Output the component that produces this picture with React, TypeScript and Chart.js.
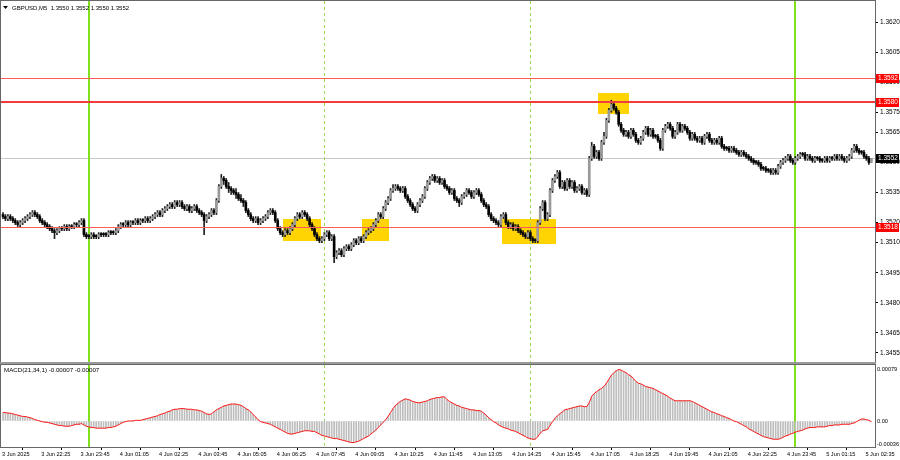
import React, { useEffect, useRef } from "react";
import { Chart, registerables } from "chart.js";
Chart.register(...registerables);

// prices are stored in pips above 1.3000 (e.g. 552 -> 1.3552)
const BASE = 1.3;
const open = [
524,523,522,523,522,521,520,519,520,521,
522,523,524,525,524,523,521,520,519,518,
517,516,515,516,517,517,518,517,518,518,
519,519,520,521,514,513,513,514,513,513,
514,514,514,514,515,515,515,516,518,519,
519,520,519,520,520,521,520,521,521,522,
521,522,523,524,525,524,526,527,528,529,
528,530,529,530,528,527,528,526,527,528,
526,525,524,521,523,524,526,525,531,538,
542,541,538,537,536,535,534,532,531,530,
526,524,522,521,522,520,521,522,523,525,
526,525,521,517,515,514,516,515,517,519,
522,524,523,525,524,522,519,517,514,512,
511,512,514,515,512,513,503,505,506,504,
507,508,507,509,511,510,512,511,513,515,
516,517,519,521,524,523,527,530,532,536,
537,538,537,536,537,533,531,529,527,526,
529,531,533,537,540,542,543,541,542,540,
541,538,537,535,536,532,531,530,533,534,
536,535,533,535,536,534,531,529,528,524,
522,521,520,519,523,524,520,518,519,517,
518,516,515,514,513,515,512,511,511,520,
527,530,522,524,536,541,543,545,538,540,
537,541,538,540,536,537,538,535,536,534,
552,558,553,555,552,560,563,571,576,579,
577,575,569,566,564,565,563,566,564,561,
560,562,565,567,564,566,563,563,561,557,
566,568,569,567,563,565,569,566,568,567,
565,562,564,562,561,562,560,563,564,561,
560,561,560,562,558,557,557,556,557,556,
555,554,555,554,553,552,551,550,550,549,
547,547,546,546,545,546,545,548,550,551,
552,553,551,550,552,553,554,554,552,553,
552,551,552,552,551,551,552,551,552,552,
553,552,553,552,551,552,553,556,558,556,
555,555,553,552,550];
const high = [
525,524,524,524,523,522,521,521,522,523,
524,525,526,526,525,524,522,521,520,519,
518,517,517,518,518,519,519,519,519,520,
520,521,522,522,515,514,515,515,514,515,
515,515,515,516,516,516,517,519,520,520,
521,521,521,521,522,522,522,522,523,523,
523,524,525,526,526,527,528,529,530,530,
531,531,531,531,529,529,529,528,529,529,
527,526,525,524,525,527,527,532,539,544,
543,542,540,538,537,537,535,534,532,531,
527,525,523,523,523,522,523,524,526,527,
527,526,522,518,516,517,517,518,520,523,
525,525,526,526,525,523,520,518,515,513,
513,515,516,516,514,514,506,507,507,508,
509,509,510,512,512,513,513,514,516,517,
518,520,522,525,525,528,531,533,537,539,
539,539,538,538,538,534,532,530,528,530,
532,534,538,541,543,544,544,543,543,542,
542,539,538,537,537,533,532,534,535,537,
537,536,536,537,537,535,532,530,529,525,
523,522,521,524,525,525,521,520,520,519,
519,517,516,515,516,516,513,512,521,528,
531,531,525,537,542,544,546,546,541,541,
542,542,541,541,538,539,539,537,537,553,
560,559,556,556,561,565,572,577,581,580,
578,576,570,567,566,566,567,567,565,562,
563,566,568,568,567,567,564,564,562,567,
569,570,570,568,566,570,570,569,569,568,
566,565,565,563,563,563,564,565,565,562,
562,562,563,563,559,558,558,558,558,557,
556,556,556,555,554,553,552,551,551,550,
548,548,547,547,547,547,549,551,552,553,
554,554,552,553,554,555,555,555,554,554,
553,553,553,553,552,553,553,553,553,554,
554,554,554,553,553,554,557,559,559,557,
556,556,554,553,552];
const low = [
522,521,521,521,520,519,518,518,519,520,
521,522,523,523,522,520,519,518,517,516,
515,512,514,515,516,516,516,516,517,517,
518,518,519,513,512,512,512,512,512,512,
513,513,513,513,514,514,514,515,517,518,
518,518,518,519,519,519,519,520,520,520,
520,521,522,523,523,523,525,526,527,527,
527,528,528,527,526,526,525,525,526,525,
524,523,514,520,522,523,524,524,530,537,
539,537,535,534,534,532,531,530,528,525,
523,521,520,520,519,519,520,521,522,524,
524,520,516,514,513,513,514,514,516,518,
521,522,522,523,521,518,516,513,511,510,
510,511,513,511,511,500,502,504,503,503,
506,506,506,508,509,509,510,510,512,514,
515,516,518,520,522,522,526,529,531,535,
536,536,535,535,532,530,528,526,525,525,
528,530,532,536,539,541,540,540,539,539,
537,536,534,534,531,530,528,529,532,533,
534,532,532,534,533,530,528,527,523,521,
520,519,518,518,522,519,517,517,516,516,
515,514,513,512,512,511,510,510,510,519,
526,521,521,523,535,540,542,537,537,536,
536,537,537,535,535,536,534,534,533,533,
551,552,552,551,551,559,562,570,575,576,
574,568,565,563,563,562,562,563,560,559,
559,561,564,563,563,562,562,560,556,556,
565,567,566,562,562,564,565,565,566,564,
561,561,561,560,560,559,559,562,560,559,
559,559,559,557,556,556,555,555,555,554,
553,553,553,552,551,550,549,549,548,546,
546,545,545,544,544,544,544,547,549,550,
551,550,549,549,551,552,553,551,551,551,
550,550,551,550,550,550,550,550,551,551,
551,551,551,550,550,551,552,555,555,554,
554,552,551,549,550];
const close = [
523,522,523,522,521,520,519,520,521,522,
523,524,525,524,523,521,520,519,518,517,
516,515,516,517,517,518,517,518,518,519,
519,520,521,514,513,513,514,513,513,514,
514,514,514,515,515,515,516,518,519,519,
520,519,520,520,521,520,521,521,522,521,
522,523,524,525,524,526,527,528,529,528,
530,529,530,528,527,528,526,527,528,526,
525,524,521,523,524,526,525,531,538,542,
541,538,537,536,535,534,532,531,530,526,
524,522,521,522,520,521,522,523,525,526,
525,521,517,515,514,516,515,517,519,522,
524,523,525,524,522,519,517,514,512,511,
512,514,515,512,513,503,505,506,504,507,
508,507,509,511,510,512,511,513,515,516,
517,519,521,524,523,527,530,532,536,537,
538,537,536,537,533,531,529,527,526,529,
531,533,537,540,542,543,541,542,540,541,
538,537,535,536,532,531,530,533,534,536,
535,533,535,536,534,531,529,528,524,522,
521,520,519,523,524,520,518,519,517,518,
516,515,514,513,515,512,511,511,520,527,
530,522,524,536,541,543,545,538,540,537,
541,538,540,536,537,538,535,536,534,552,
558,553,555,552,560,563,571,576,579,577,
575,569,566,564,565,563,566,564,561,560,
562,565,567,564,566,563,563,561,557,566,
568,569,567,563,565,569,566,568,567,565,
562,564,562,561,562,560,563,564,561,560,
561,560,562,558,557,557,556,557,556,555,
554,555,554,553,552,551,550,550,549,547,
547,546,546,545,546,545,548,550,551,552,
553,551,550,552,553,554,554,552,553,552,
551,552,552,551,551,552,551,552,552,553,
552,553,552,551,552,553,556,558,556,555,
555,553,552,550,552];
// MACD(21,34,1) main value in units of 0.00001
const macd = [
13,13,12,12,11,10,9,8,7,7,
6,5,4,2,1,0,-1,-2,-2,-3,
-4,-5,-6,-7,-7,-8,-8,-8,-7,-6,
-5,-5,-4,-6,-8,-9,-10,-10,-11,-11,
-11,-11,-11,-10,-10,-9,-8,-6,-4,-2,
-1,0,0,0,1,1,1,2,3,4,
5,6,7,8,10,11,12,14,15,17,
18,18,19,19,19,18,18,18,17,17,
16,15,13,11,10,11,14,17,19,21,
23,24,25,26,26,26,25,24,22,19,
17,14,10,6,2,-1,-2,-3,-4,-5,
-7,-9,-11,-13,-15,-17,-19,-20,-20,-19,
-18,-17,-16,-15,-15,-15,-16,-16,-18,-20,
-22,-23,-24,-25,-26,-27,-27,-28,-29,-30,
-31,-32,-33,-33,-32,-31,-29,-27,-25,-23,
-20,-17,-14,-10,-6,-2,2,7,13,19,
24,27,30,32,34,33,32,30,29,28,
28,29,30,31,33,34,35,36,36,37,
37,33,30,28,26,24,23,21,20,19,
18,17,17,16,16,15,12,9,5,2,
-1,-3,-6,-8,-10,-11,-12,-14,-15,-16,
-18,-20,-22,-24,-26,-27,-28,-28,-24,-19,
-15,-14,-13,-7,-1,4,8,11,14,17,
18,19,20,21,22,23,23,22,22,28,
38,42,45,48,50,53,58,64,70,74,
77,79,78,76,74,71,69,65,61,58,
57,55,53,52,51,50,48,46,44,42,
40,38,35,33,31,31,31,31,31,31,
31,30,28,26,24,22,20,18,16,14,
13,11,10,8,7,5,4,2,0,-1,
-3,-5,-7,-9,-12,-14,-16,-18,-20,-22,
-24,-25,-26,-27,-28,-28,-28,-27,-25,-23,
-22,-20,-19,-17,-16,-15,-14,-12,-11,-10,
-10,-10,-9,-9,-9,-9,-8,-7,-7,-6,
-6,-6,-5,-5,-5,-5,-4,-3,-1,1,
3,3,2,1,-1];

const priceTicks = [620, 605, 590, 575, 565, 550, 535, 520, 510, 495, 480, 465, 455];
const macdTicks = [79, 0, -36];
const macdTickLabels = ["0.00079", "0.00", "-0.00036"];
const timeTickBars = [0,16,32,48,64,80,96,112,128,144,160,176,192,208,224,240,256,272,288,304,320,336,352];
const timeLabels = ["3 Jun 2025","3 Jun 22:25","3 Jun 23:45","4 Jun 01:05","4 Jun 02:25","4 Jun 03:45","4 Jun 05:05","4 Jun 06:25","4 Jun 07:45","4 Jun 09:05","4 Jun 10:25","4 Jun 11:45","4 Jun 13:05","4 Jun 14:25","4 Jun 15:45","4 Jun 17:05","4 Jun 18:25","4 Jun 19:45","4 Jun 21:05","4 Jun 22:25","4 Jun 23:45","5 Jun 01:15","5 Jun 02:35"];
const levels = [592, 580, 518];
const currentPrice = 552;
const daySeparators = [35, 323];
const sessionMarks = [131, 215];
const zoneStart = [114.1, 146.4, 203.4, 242.6];
const zoneEnd = [129.6, 157.4, 225.4, 255.2];
const zoneHigh = [521.8, 521.8, 521.8, 584.6];
const zoneLow = [510.8, 510.8, 509.3, 574.1];
const titleText = "GBPUSD,M5  1.3550 1.3552 1.3550 1.3552";
const macdTitle = "MACD(21,34,1) -0.00007 -0.00007";

const XMIN = -0.815;
const XMAX = 355.5;
const FONT = "Liberation Sans";
const fmtPrice = (v: number) => (BASE + v / 10000).toFixed(4);

function drawVLines(chart: any) {
  const { ctx, chartArea: a, scales } = chart;
  const x = scales.x;
  ctx.save();
  ctx.beginPath();
  ctx.rect(a.left, a.top, a.right - a.left, a.bottom - a.top);
  ctx.clip();
  ctx.strokeStyle = "#7fe01e";
  ctx.lineWidth = 2;
  daySeparators.forEach((b) => {
    const px = Math.round(x.getPixelForValue(b));
    ctx.beginPath();
    ctx.moveTo(px, a.top);
    ctx.lineTo(px, a.bottom);
    ctx.stroke();
  });
  ctx.strokeStyle = "#9ad65a";
  ctx.lineWidth = 1;
  ctx.setLineDash([3, 3]);
  sessionMarks.forEach((b) => {
    const px = Math.round(x.getPixelForValue(b)) + 0.5;
    ctx.beginPath();
    ctx.moveTo(px, a.top);
    ctx.lineTo(px, a.bottom);
    ctx.stroke();
  });
  ctx.restore();
}

function drawBorder(chart: any) {
  const { ctx, chartArea: a } = chart;
  ctx.save();
  ctx.strokeStyle = "#666";
  ctx.lineWidth = 1;
  ctx.strokeRect(Math.round(a.left) - 0.5, Math.round(a.top) - 0.5, Math.round(a.right - a.left) + 1, Math.round(a.bottom - a.top) + 1);
  ctx.restore();
}

const noPadY = (w: number) => (s: any) => {
  s.width = w;
  s.paddingTop = 0;
  s.paddingBottom = 0;
};

const mainOverlay = {
  id: "mainOverlay",
  beforeDatasetsDraw(chart: any) {
    const { ctx, chartArea: a, scales } = chart;
    const x = scales.x, y = scales.y;
    ctx.save();
    ctx.beginPath();
    ctx.rect(a.left, a.top, a.right - a.left, a.bottom - a.top);
    ctx.clip();
    ctx.fillStyle = "#ffd400";
    zoneStart.forEach((s, k) => {
      const x0 = x.getPixelForValue(s), x1 = x.getPixelForValue(zoneEnd[k]);
      const y0 = y.getPixelForValue(zoneHigh[k]), y1 = y.getPixelForValue(zoneLow[k]);
      ctx.fillRect(Math.round(x0), Math.round(y0), Math.round(x1 - x0), Math.round(y1 - y0));
    });
    const cy = Math.round(y.getPixelForValue(currentPrice)) + 0.5;
    ctx.strokeStyle = "#c8c8c8";
    ctx.lineWidth = 1;
    ctx.beginPath();
    ctx.moveTo(a.left, cy);
    ctx.lineTo(a.right, cy);
    ctx.stroke();
    ctx.restore();
    drawVLines(chart);
  },
  afterDatasetsDraw(chart: any) {
    const { ctx, chartArea: a, scales } = chart;
    const y = scales.y;
    ctx.save();
    levels.forEach((lv) => {
      const thick = lv === 580;
      const py = thick ? Math.round(y.getPixelForValue(lv)) : Math.round(y.getPixelForValue(lv)) + 0.5;
      ctx.strokeStyle = thick ? "#f03c3c" : "#ff5a5a";
      ctx.lineWidth = thick ? 2 : 1;
      ctx.beginPath();
      ctx.moveTo(a.left, py);
      ctx.lineTo(a.right, py);
      ctx.stroke();
    });
    ctx.restore();
  },
  afterDraw(chart: any) {
    const { ctx, chartArea: a, scales } = chart;
    const y = scales.y;
    drawBorder(chart);
    ctx.save();
    ctx.font = `6.5px "${FONT}"`;
    ctx.textBaseline = "middle";
    ctx.textAlign = "left";
    const boxes = [...levels.map((lv) => ({ v: lv, c: "#ff0000" })), { v: currentPrice, c: "#000000" }];
    boxes.forEach((b) => {
      const py = Math.round(y.getPixelForValue(b.v));
      ctx.fillStyle = b.c;
      ctx.fillRect(a.right + 1, py - 4, 23, 9);
      ctx.fillStyle = "#fff";
      ctx.fillText(fmtPrice(b.v), a.right + 3, py + 0.5);
    });
    // title
    ctx.fillStyle = "#000";
    ctx.beginPath();
    ctx.moveTo(3, 6);
    ctx.lineTo(8, 6);
    ctx.lineTo(5.5, 9);
    ctx.closePath();
    ctx.fill();
    ctx.font = `6px "${FONT}"`;
    ctx.fillText(titleText, 12, 8);
    ctx.restore();
  },
};

const macdOverlay = {
  id: "macdOverlay",
  beforeDatasetsDraw(chart: any) {
    drawVLines(chart);
  },
  afterDraw(chart: any) {
    const { ctx } = chart;
    drawBorder(chart);
    ctx.save();
    ctx.fillStyle = "#000";
    ctx.font = `6.2px "${FONT}"`;
    ctx.textBaseline = "middle";
    ctx.fillText(macdTitle, 4, 7);
    ctx.restore();
  },
};

export default function App() {
  const mainRef = useRef<HTMLCanvasElement>(null);
  const macdRef = useRef<HTMLCanvasElement>(null);

  useEffect(() => {
    const idx = close.map((_, i) => i);
    const wickData = idx.map((i) => ({ x: i, y: [low[i], high[i]] }));
    const bodyData = idx.map((i) => ({ x: i, y: [open[i], close[i]] }));
    const bodyColors = idx.map((i) => (close[i] > open[i] ? "#9a9a9a" : "#000000"));

    const main = new Chart(mainRef.current!, {
      type: "bar",
      data: {
        datasets: [
          { data: wickData as any, backgroundColor: "#222", barThickness: 1, grouped: false, minBarLength: 1, order: 2 } as any,
          { data: bodyData as any, backgroundColor: bodyColors, barThickness: 2, grouped: false, minBarLength: 1, order: 1 } as any,
        ],
      },
      options: {
        animation: false,
        responsive: false,
        events: [],
        layout: { padding: { top: 1, left: 1, bottom: 1, right: 0 } },
        plugins: { legend: { display: false }, tooltip: { enabled: false } },
        scales: {
          x: { type: "linear", min: XMIN, max: XMAX, display: false, offset: false },
          y: {
            position: "right",
            min: 450.51,
            max: 630.47,
            afterFit: noPadY(25),
            afterBuildTicks: (s: any) => { s.ticks = priceTicks.map((v) => ({ value: v })); },
            ticks: { autoSkip: false, callback: (v: any) => fmtPrice(Number(v)), font: { family: FONT, size: 6.5 }, color: "#000", padding: 2 },
            grid: { drawOnChartArea: false, drawTicks: true, tickLength: 3, color: "#000" },
            border: { display: false },
          },
        },
      } as any,
      plugins: [mainOverlay],
    });

    const macdData = idx.map((i) => ({ x: i, y: macd[i] }));
    const sub = new Chart(macdRef.current!, {
      type: "bar",
      data: {
        datasets: [
          { type: "line", data: macdData as any, borderColor: "#ff1a1a", borderWidth: 1, pointRadius: 0, tension: 0, order: 0 } as any,
          { data: macdData as any, backgroundColor: "#bdbdbd", barThickness: 1, grouped: false, order: 1 } as any,
        ],
      },
      options: {
        animation: false,
        responsive: false,
        events: [],
        layout: { padding: { top: 2, left: 1, bottom: 0, right: 0 } },
        plugins: { legend: { display: false }, tooltip: { enabled: false } },
        scales: {
          x: {
            type: "linear",
            min: XMIN,
            max: XMAX,
            offset: false,
            position: "bottom",
            afterFit: (s: any) => { s.height = 13; s.paddingLeft = 0; s.paddingRight = 0; },
            afterBuildTicks: (s: any) => { s.ticks = timeTickBars.map((v) => ({ value: v })); },
            ticks: {
              autoSkip: false,
              maxRotation: 0,
              minRotation: 0,
              align: "start",
              padding: 1,
              labelOffset: -1,
              callback: (_v: any, i: number) => timeLabels[i],
              font: { family: FONT, size: 5.6 },
              color: "#000",
            },
            grid: { drawOnChartArea: false, drawTicks: true, tickLength: 3, color: "#000" },
            border: { display: false },
          },
          y: {
            position: "right",
            min: -39.9,
            max: 85.9,
            afterFit: noPadY(25),
            afterBuildTicks: (s: any) => { s.ticks = macdTicks.map((v) => ({ value: v })); },
            ticks: { autoSkip: false, callback: (_v: any, i: number) => macdTickLabels[i], font: { family: FONT, size: 5.6 }, color: "#000", padding: 1 },
            grid: { drawOnChartArea: false, drawTicks: true, tickLength: 1, color: "#000" },
            border: { display: false },
          },
        },
      } as any,
      plugins: [macdOverlay],
    });

    return () => {
      main.destroy();
      sub.destroy();
    };
  }, []);

  return (
    <div style={{ position: "absolute", left: 0, top: 0, width: 900, height: 460, background: "#fff", overflow: "hidden" }}>
      <canvas ref={mainRef} width={900} height={363} style={{ position: "absolute", left: 0, top: 0, width: 900, height: 363 }} />
      <div style={{ position: "absolute", left: 0, top: 362, width: 876, height: 3, background: "#9a9a9a" }} />
      <canvas ref={macdRef} width={900} height={97} style={{ position: "absolute", left: 0, top: 363, width: 900, height: 97 }} />
    </div>
  );
}
